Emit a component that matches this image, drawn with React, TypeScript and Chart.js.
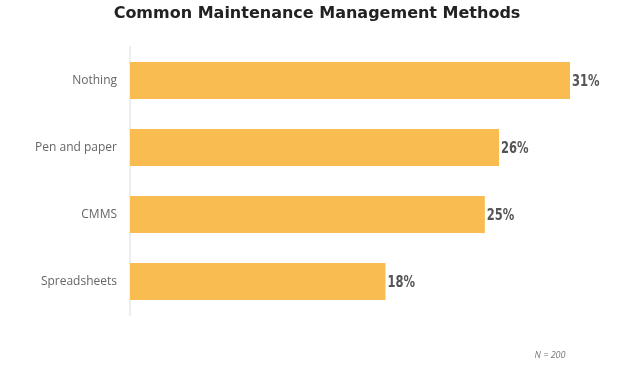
import React, { useEffect, useRef } from "react";
import { Chart, registerables } from "chart.js";

Chart.register(...registerables);

const categories = ["Nothing", "Pen and paper", "CMMS", "Spreadsheets"];
const values = [31, 26, 25, 18];
const titleText = "Common Maintenance Management Methods";
const noteText = "N = 200";

const overlayPlugin = {
  id: "overlay",
  afterDatasetsDraw(chart: any) {
    const ctx = chart.ctx;
    const meta = chart.getDatasetMeta(0);
    ctx.save();
    ctx.fillStyle = "#555";
    ctx.textBaseline = "middle";
    ctx.textAlign = "left";
    ctx.font = "bold 16px 'DejaVu Sans Condensed', 'DejaVu Sans', sans-serif";
    meta.data.forEach((bar: any, i: number) => {
      const x = bar.x + 2;
      const y = bar.y;
      ctx.save();
      ctx.translate(x, y);
      ctx.scale(0.8, 1);
      ctx.fillText(values[i] + "%", 0, 1);
      ctx.restore();
    });
    ctx.restore();
  },
  afterDraw(chart: any) {
    const ctx = chart.ctx;
    ctx.save();
    ctx.fillStyle = "#222";
    ctx.textAlign = "center";
    ctx.textBaseline = "alphabetic";
    ctx.font = "bold 16px 'DejaVu Sans', Verdana, sans-serif";
    ctx.fillText(titleText, 317, 18);
    ctx.fillStyle = "#777";
    ctx.font = "italic 9px 'Open Sans', sans-serif";
    ctx.textBaseline = "middle";
    ctx.fillText(noteText, 550, 355);
    ctx.restore();
  },
};

export default function App() {
  const ref = useRef<HTMLCanvasElement | null>(null);
  useEffect(() => {
    document.body.style.margin = "0";
    const chart = new Chart(ref.current as HTMLCanvasElement, {
      type: "bar",
      data: {
        labels: categories,
        datasets: [
          {
            data: values,
            backgroundColor: "#F8BC50",
            borderWidth: 0,
            barPercentage: 0.552,
            categoryPercentage: 1,
          },
        ],
      },
      options: {
        indexAxis: "y",
        responsive: false,
        animation: false,
        layout: { padding: { top: 47, bottom: 59, right: 49, left: 0 } },
        plugins: {
          legend: { display: false },
          title: { display: false },
          tooltip: { enabled: false },
        },
        scales: {
          x: {
            display: false,
            min: 0,
            max: 31,
          },
          y: {
            grid: { display: false, drawTicks: false },
            border: { display: true, color: "#eeeeee", width: 2 },
            ticks: {
              color: "#666",
              padding: 13,
              font: { family: "'Open Sans', sans-serif", size: 12 },
            },
            afterFit(scale: any) {
              scale.width = 130;
            },
          },
        },
      },
      plugins: [overlayPlugin],
    } as any);
    return () => chart.destroy();
  }, []);
  return <canvas ref={ref} width={619} height={374} style={{ display: "block" }} />;
}
